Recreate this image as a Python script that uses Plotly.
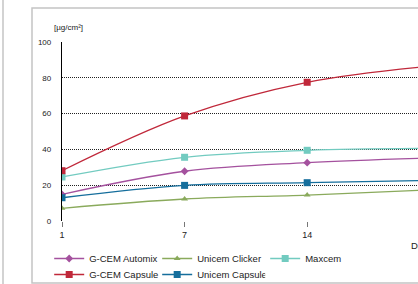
import plotly.graph_objects as go

categories = ["1", "7", "14", "21"]
gcem_automix = [14.9, 27.8, 32.6, 35.2]
unicem_clicker = [7.1, 12.3, 14.5, 17.4]
maxcem = [24.6, 35.6, 39.5, 40.6]
gcem_capsule = [28.1, 58.7, 77.5, 86.5]
unicem_capsule = [13.0, 19.9, 21.4, 22.7]
y_ticks = [0, 20, 40, 60, 80, 100]

series = [
    ("G-CEM Automix", gcem_automix, "#a4519e", "diamond", 6, "legend"),
    ("Unicem Clicker", unicem_clicker, "#8aaa5c", "triangle-up", 6, "legend"),
    ("Maxcem", maxcem, "#72cbc0", "square", 7, "legend"),
    ("G-CEM Capsule", gcem_capsule, "#c0283a", "square", 7, "legend2"),
    ("Unicem Capsule", unicem_capsule, "#156e9c", "square", 7, "legend2"),
]

FONT = "Liberation Sans"
fig = go.Figure()
xs = list(range(len(categories)))
for name, vals, col, sym, sz, leg in series:
    fig.add_trace(go.Scatter(
        x=xs, y=vals, name=name, mode="lines+markers", legend=leg,
        line=dict(color=col, width=1.3, shape="spline", smoothing=1),
        marker=dict(color=col, symbol=sym, size=sz),
    ))

legend_common = dict(orientation="h", x=-0.036, xanchor="left", yanchor="top",
                     entrywidth=63, entrywidthmode="pixels",
                     font=dict(family=FONT, size=9.5, color="#222"),
                     tracegroupgap=0, itemwidth=30, bgcolor="rgba(0,0,0,0)")

fig.update_layout(
    width=418, height=284,
    margin=dict(l=62, r=0, t=42, b=63, autoexpand=False),
    paper_bgcolor="white", plot_bgcolor="white",
    font=dict(family=FONT, size=9, color="#222"),
    showlegend=True,
    legend=dict(y=-0.1285, **legend_common),
    legend2=dict(y=-0.2179, **legend_common),
    xaxis=dict(range=[0, 2.904], tickvals=xs, ticktext=categories,
               showgrid=False, zeroline=False, showline=False,
               ticks="outside", ticklen=5, tickcolor="#777", tickwidth=1,
               tickfont=dict(family=FONT, size=9, color="#222")),
    yaxis=dict(range=[0, 100], tickvals=y_ticks, showgrid=True,
               gridcolor="#222", griddash="1px,1px", gridwidth=1,
               zeroline=False, showline=True, linecolor="black", linewidth=1.3,
               ticks="", ticklabelstandoff=8,
               tickfont=dict(family=FONT, size=8, color="#222")),
    shapes=[
        dict(type="rect", xref="paper", yref="paper",
             x0=-30/356, x1=1.2, y0=(221-283)/179, y1=(221-8)/179,
             line=dict(color="#c4c4c4", width=1.5), fillcolor="rgba(0,0,0,0)", layer="below"),
        dict(type="line", xref="paper", yref="paper",
             x0=-59/356, x1=-59/356, y0=(221-290)/179, y1=(221-0)/179,
             line=dict(color="#c4c4c4", width=1.5)),
    ],
    annotations=[
        dict(text="[µg/cm²]", xref="paper", yref="paper", x=-10/356, y=(221-28)/179,
             xanchor="left", yanchor="middle", showarrow=False,
             font=dict(family=FONT, size=8, color="#222")),
        dict(text="Days", xref="paper", yref="paper", x=(409-62)/356, y=(221-246)/179,
             xanchor="left", yanchor="middle", showarrow=False,
             font=dict(family=FONT, size=9.5, color="#222")),
    ],
)
fig.write_html("out.html", config={"displayModeBar": False},
               post_script="document.body.style.margin='0';document.body.style.overflow='hidden';")
